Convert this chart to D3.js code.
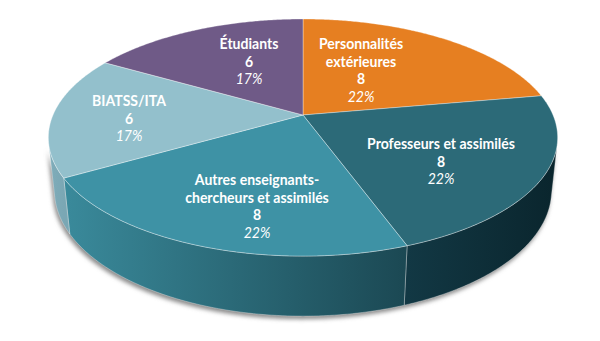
<!DOCTYPE html>
<html>
<head>
<meta charset="utf-8">
<script src="https://cdn.jsdelivr.net/npm/d3@7"></script>
<style>
  html, body { margin: 0; padding: 0; background: #ffffff; }
  svg { display: block; }
  text { font-family: Lato, "Open Sans", sans-serif; fill: #ffffff; }
</style>
</head>
<body>
<svg id="chart" width="600" height="341"></svg>
<script>
// Composition of the council, by college
const categories = [
  "Personnalités extérieures",
  "Professeurs et assimilés",
  "Autres enseignants-chercheurs et assimilés",
  "BIATSS/ITA",
  "Étudiants"
];
const labelLines = [
  ["Personnalités", "extérieures"],
  ["Professeurs et assimilés"],
  ["Autres enseignants-", "chercheurs et assimilés"],
  ["BIATSS/ITA"],
  ["Étudiants"]
];
const values = [8, 8, 8, 6, 6];

// Colours of the top faces and the outer walls
const topColors  = ["#e67f21", "#2c6a78", "#3e92a5", "#93c0cc", "#6f5a87"];
const wallLight  = ["#e67f21", "#123844", "#3a8a9b", "#80adba", "#6f5a87"];
const wallDark   = ["#e67f21", "#0a252d", "#1b4853", "#7aa7b4", "#6f5a87"];

// Label anchors (centre of the first line), in pixels
const labelAt = [[361, 44], [441, 144], [257, 180], [129, 101], [249, 44]];
const lineStep = 17.6;
const labelSize = 15;
const widestLabel = 148;   // width of "Professeurs et assimilés"

const svg = d3.select("#chart");
const defs = svg.append("defs");

// Perspective view of a flat cylinder of radius 1 and height `depth`
const view = { cx: 303, cy: 115, scale: 250, dist: 4.68, tilt: Math.asin(0.457), depth: 0.24 };
const sinT = Math.sin(view.tilt), cosT = Math.cos(view.tilt);

function project(theta, r, y) {
  const X = r * Math.sin(theta);
  const Z = -r * Math.cos(theta);
  const w = view.dist - y * sinT - Z * cosT;
  const v = y * cosT - Z * sinT;
  const k = view.scale * view.dist / w;
  return [view.cx + X * k, view.cy - v * k];
}

function arcPoints(a0, a1, y) {
  const n = Math.max(2, Math.ceil(Math.abs(a1 - a0) / (Math.PI / 360)));
  return d3.range(n + 1).map(i => project(a0 + (a1 - a0) * i / n, 1, y));
}

const line = d3.line();
const color = d3.scaleOrdinal().domain(categories).range(topColors);

const pie = d3.pie().sort(null).value(d => d.value).startAngle(0).endAngle(2 * Math.PI);
const data = categories.map((c, i) => ({ name: c, value: values[i], idx: i }));
const arcs = pie(data);
const total = d3.sum(values);
const pct = d3.format(".0%");

// Outer wall faces the viewer between these two angles
const wallFrom = Math.acos(-1 / (view.dist * cosT));
const wallTo = 2 * Math.PI - wallFrom;
const yBottom = -view.depth;

// Soft shadow under the base
const blur = defs.append("filter").attr("id", "soft").attr("x", "-10%").attr("y", "-10%").attr("width", "120%").attr("height", "130%");
blur.append("feGaussianBlur").attr("stdDeviation", 2.2);

const baseOutline = arcPoints(wallFrom, wallTo, 0).concat(arcPoints(wallTo, wallFrom, yBottom));
svg.append("path")
  .attr("d", line(baseOutline) + "Z")
  .attr("transform", "translate(-1.5,3)")
  .attr("fill", "#8a8a8a")
  .attr("filter", "url(#soft)");

// Outer walls
const walls = svg.append("g");
arcs.forEach(a => {
  const lo = Math.max(a.startAngle, wallFrom);
  const hi = Math.min(a.endAngle, wallTo);
  if (lo >= hi) return;
  const pts = arcPoints(lo, hi, 0).concat(arcPoints(hi, lo, yBottom));
  const i = a.data.idx;
  const xr = project(lo, 1, 0)[0], xl = project(hi, 1, 0)[0];
  const gid = "wall" + i;
  const g = defs.append("linearGradient").attr("id", gid)
    .attr("gradientUnits", "userSpaceOnUse")
    .attr("x1", xl).attr("x2", xr).attr("y1", 0).attr("y2", 0);
  g.append("stop").attr("offset", 0).attr("stop-color", wallLight[i]);
  g.append("stop").attr("offset", 1).attr("stop-color", wallDark[i]);
  walls.append("path")
    .attr("d", line(pts) + "Z")
    .attr("fill", `url(#${gid})`)
    .attr("stroke", "rgba(255,255,255,0.45)")
    .attr("stroke-width", 0.7)
    .attr("stroke-linejoin", "round");
});

// Top faces
const tops = svg.append("g");
arcs.forEach(a => {
  const pts = [project(0, 0, 0)].concat(arcPoints(a.startAngle, a.endAngle, 0));
  tops.append("path")
    .attr("d", line(pts) + "Z")
    .attr("fill", color(a.data.name))
    .attr("stroke", "rgba(255,255,255,0.5)")
    .attr("stroke-width", 0.7)
    .attr("stroke-linejoin", "round");
});

// Labels: name, count and share, set in a slightly condensed face
const labels = svg.append("g").attr("text-anchor", "middle");
const groups = [];
arcs.forEach(a => {
  const i = a.data.idx;
  const [lx, ly] = labelAt[i];
  const g = labels.append("g").datum([lx, ly]);
  groups.push(g);
  const rows = labelLines[i].map(t => ({ t, bold: true }))
    .concat([{ t: String(a.data.value), bold: true }, { t: pct(a.data.value / total), bold: false }]);
  rows.forEach((r, k) => {
    g.append("text")
      .attr("x", 0)
      .attr("y", k * lineStep)
      .attr("dy", "0.35em")
      .attr("font-size", labelSize)
      .attr("font-weight", r.bold ? 700 : 400)
      .attr("font-style", r.bold ? "normal" : "italic")
      .text(r.t);
  });
});

const probe = labels.selectAll("text").filter(function () { return this.textContent === "Professeurs et assimilés"; }).node();
const squeeze = probe ? widestLabel / probe.getComputedTextLength() : 1;
groups.forEach(g => {
  const [lx, ly] = g.datum();
  g.attr("transform", `translate(${lx},${ly}) scale(${squeeze},1)`);
});
</script>
</body>
</html>
